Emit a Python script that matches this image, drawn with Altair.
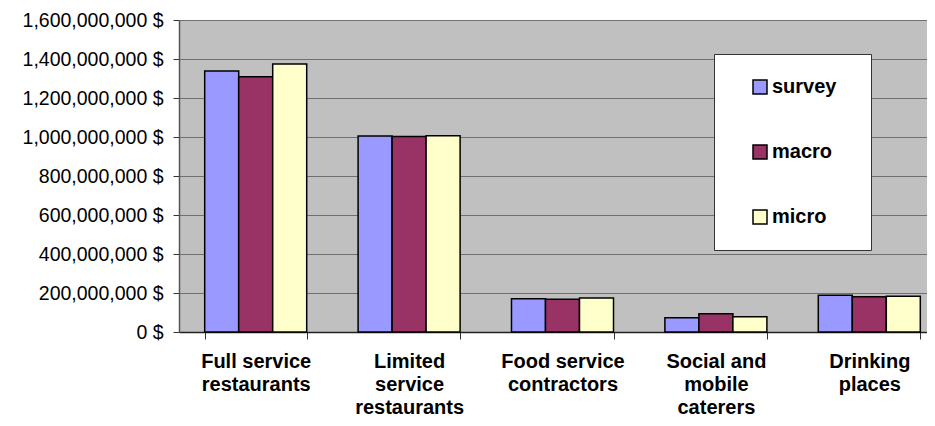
import altair as alt
import pandas as pd

categories = ["Full service\nrestaurants", "Limited\nservice\nrestaurants",
              "Food service\ncontractors", "Social and\nmobile\ncaterers",
              "Drinking\nplaces"]
series = ["survey", "macro", "micro"]
survey = [1.338e9, 1.005e9, 0.171e9, 0.073e9, 0.188e9]
macro = [1.309e9, 1.002e9, 0.168e9, 0.094e9, 0.181e9]
micro = [1.374e9, 1.007e9, 0.174e9, 0.078e9, 0.183e9]
y_ticks = [0, 2e8, 4e8, 6e8, 8e8, 1e9, 1.2e9, 1.4e9, 1.6e9]
colors = ["#9999FF", "#993366", "#FFFFCC"]

rows = []
for i, c in enumerate(categories):
    for s, vals in zip(series, [survey, macro, micro]):
        rows.append({"category": c, "series": s, "value": vals[i]})
df = pd.DataFrame(rows)

FONT = "Liberation Sans"

chart = alt.Chart(df).mark_bar(stroke="black", strokeWidth=1.5).encode(
    x=alt.X("category:N", sort=categories, title=None,
            scale=alt.Scale(range=[0, 767], paddingInner=0.335, paddingOuter=0.1675),
            axis=alt.Axis(labelAngle=0, labelExpr="split(datum.label, '\\n')",
                          tickBand="extent", labelFont=FONT, labelFontSize=20,
                          labelFontWeight="bold", labelColor="black",
                          labelLineHeight=23, labelPadding=12, labelLimit=300,
                          tickSize=7, tickColor="#333", tickWidth=1,
                          domainColor="#222", domainWidth=1.5, grid=False)),
    xOffset=alt.XOffset("series:N", sort=series,
                        scale=alt.Scale(paddingInner=0, paddingOuter=0)),
    y=alt.Y("value:Q", title=None,
            scale=alt.Scale(domain=[0, 1.6e9], nice=False),
            axis=alt.Axis(values=y_ticks, labelExpr="format(datum.value, ',') + ' $'",
                          labelFont=FONT, labelFontSize=19.5, labelColor="black",
                          labelPadding=10, tickSize=6, tickColor="#333",
                          domainColor="#555", domainWidth=1.5,
                          gridColor="#707070", gridWidth=1.2)),
    color=alt.Color("series:N", sort=series,
                    scale=alt.Scale(domain=series, range=colors),
                    legend=alt.Legend(title="\u00a0", titleOrient="right",
                                      titleFontSize=20, titlePadding=12,
                                      orient="none", legendX=535, legendY=34,
                                      fillColor="white", strokeColor="#333",
                                      padding=23, rowPadding=45, symbolType="square",
                                      symbolSize=196, symbolStrokeColor="black",
                                      symbolStrokeWidth=1.5, symbolOffset=13,
                                      labelFont=FONT, labelFontSize=20,
                                      labelFontWeight="bold", labelColor="black",
                                      labelOffset=2)),
).properties(
    width=748, height=312,
    autosize=alt.AutoSizeParams(type="none"),
    padding={"left": 171, "top": 12, "right": 0, "bottom": 86},
).configure_view(fill="#C0C0C0", strokeWidth=0)

chart.save("out.html", embed_options={"renderer": "svg", "actions": False})
